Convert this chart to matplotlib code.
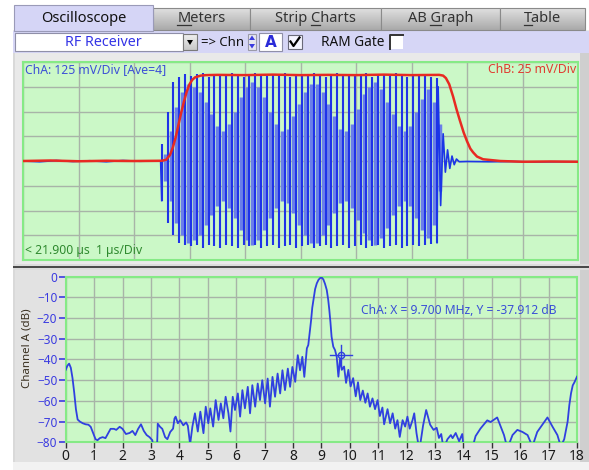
import matplotlib
matplotlib.use('Agg')
import matplotlib.pyplot as plt
import numpy as np
from matplotlib.patches import Rectangle, Polygon
from matplotlib.font_manager import FontProperties

plt.rcParams['font.family'] = ['Noto Sans', 'DejaVu Sans']

# ---------------- data ----------------
tab_labels = ["Oscilloscope", "Meters", "Strip Charts", "AB Graph", "Table"]
tab_underline = [None, 0, 6, 3, 0]

# Upper scope trace (time in us, amplitude in divisions)
base_pre_t = [0.0, 0.3, 0.6, 0.9, 1.2, 1.5, 1.8, 2.1, 2.4, 2.48]
base_pre_v = [0.0, -0.03, 0.02, -0.02, 0.01, -0.03, 0.02, -0.01, 0.0, 0.0]
burst_start_us = 2.50
cycle_us = 0.1054
burst_peaks = [0.7, 2.0, 3.2, 3.4, 3.5, 3.45, 3.5, 3.55, 3.4, 3.5, 3.5, 3.45,
               3.55, 3.5, 3.4, 3.5, 3.55, 3.5, 3.45, 3.5, 3.5, 3.55, 3.4, 3.5,
               3.5, 3.45, 3.55, 3.5, 3.4, 3.5, 3.55, 3.5, 3.45, 3.5, 3.5, 3.55,
               3.4, 3.5, 3.5, 3.45, 3.55, 3.5, 3.4, 3.5, 3.5, 3.45, 3.4, 3.35]
burst_troughs = [-1.6, -2.5, -3.0, -3.3, -3.4, -3.45, -3.4, -3.5, -3.4, -3.45,
                 -3.5, -3.4, -3.45, -3.5, -3.4, -3.45, -3.4, -3.5, -3.45, -3.4,
                 -3.5, -3.45, -3.4, -3.5, -3.45, -3.4, -3.5, -3.45, -3.4, -3.5,
                 -3.45, -3.4, -3.5, -3.45, -3.4, -3.5, -3.45, -3.4, -3.5, -3.45,
                 -3.4, -3.5, -3.45, -3.4, -3.45, -3.4, -3.35, -3.3]
light_hi = [0.3, 1.2, 2.2, 2.8, 3.1, 3.0, 2.8, 2.4, 1.9, 1.4, 1.2, 1.5, 2.0,
            2.6, 3.0, 3.2, 3.0, 2.6, 2.0, 1.5, 1.2, 1.3, 1.8, 2.3, 2.8, 3.1,
            3.1, 2.8, 2.3, 1.8, 1.3, 1.2, 1.5, 2.1, 2.7, 3.0, 3.2, 2.9, 2.4,
            1.9, 1.4, 1.2, 1.4, 2.0, 2.5, 2.9, 2.4, 1.5]
light_lo = [-0.8, -1.6, -2.5, -3.0, -3.3, -3.2, -3.0, -2.6, -2.2, -1.8, -1.6,
            -1.9, -2.3, -2.8, -3.2, -3.4, -3.2, -2.8, -2.3, -1.9, -1.6, -1.7,
            -2.1, -2.6, -3.0, -3.3, -3.3, -3.0, -2.6, -2.1, -1.7, -1.6, -1.9,
            -2.4, -2.9, -3.2, -3.4, -3.1, -2.7, -2.2, -1.8, -1.6, -1.8, -2.3,
            -2.8, -3.1, -2.6, -1.2]
tail_t = [7.46, 7.48, 7.525, 7.57, 7.61, 7.65, 7.69, 7.73, 7.77, 7.81, 7.86,
          8.0, 8.4, 8.8, 9.2, 9.6, 10.0]
tail_v = [-3.3, 3.0, -1.8, 1.1, -0.45, 0.45, -0.3, 0.2, -0.15, 0.08, -0.03,
          -0.02, -0.03, -0.02, -0.04, -0.03, -0.03]

chb_t = [0.0, 0.5, 1.0, 1.5, 2.0, 2.5, 2.58, 2.65, 2.70, 2.75, 2.80, 2.85, 2.90,
         2.95, 3.00, 3.05, 3.10, 3.20, 3.30, 3.5, 4.0, 4.5, 5.0, 5.5, 6.0, 6.5,
         7.0, 7.5, 7.57, 7.62, 7.68, 7.75, 7.81, 7.87, 7.94, 8.00, 8.06, 8.11,
         8.18, 8.29, 8.6, 9.0, 9.5, 10.0]
chb_v = [0.0, 0.02, -0.01, 0.01, 0.0, 0.01, 0.05, 0.25, 0.55, 0.95, 1.45, 1.95,
         2.4, 2.8, 3.1, 3.28, 3.38, 3.45, 3.47, 3.48, 3.47, 3.49, 3.47, 3.48,
         3.47, 3.49, 3.47, 3.48, 3.45, 3.35, 3.1, 2.6, 2.1, 1.65, 1.15, 0.8, 0.5,
         0.35, 0.18, 0.07, 0.0, -0.03, -0.02, -0.03]

# Spectrum (MHz, dB)
spec_f = [0.00, 0.06, 0.12, 0.18, 0.24, 0.30, 0.36, 0.42, 0.50, 0.60, 0.70, 0.80,
          0.88, 0.95, 1.05, 1.12, 1.20, 1.30, 1.40, 1.48, 1.58, 1.70, 1.78, 1.90,
          2.00, 2.12, 2.25, 2.35, 2.45, 2.55, 2.65, 2.75, 2.85, 2.95, 3.05, 3.12,
          3.20, 3.24, 3.32, 3.40, 3.50, 3.58, 3.68, 3.78, 3.83, 3.87, 3.95, 4.03,
          4.14, 4.24, 4.30, 4.38, 4.46, 4.55, 4.65, 4.74, 4.85, 4.93, 5.02, 5.09,
          5.19, 5.28, 5.38, 5.46, 5.55, 5.63, 5.73, 5.80, 5.88, 5.96, 6.06, 6.14,
          6.22, 6.31, 6.41, 6.49, 6.57, 6.67, 6.76, 6.84, 6.92, 7.02, 7.11, 7.19,
          7.28, 7.37, 7.46, 7.55, 7.63, 7.72, 7.82, 7.90, 7.98, 8.08, 8.17, 8.25,
          8.33, 8.40, 8.49, 8.54, 8.58, 8.64, 8.68, 8.72, 8.78, 8.84, 8.90, 8.96,
          9.02, 9.07, 9.13, 9.19, 9.24, 9.28, 9.32, 9.36, 9.42, 9.48, 9.54, 9.60,
          9.66, 9.72, 9.80, 9.87, 9.95, 10.03, 10.12, 10.21, 10.29, 10.37, 10.46,
          10.55, 10.63, 10.71, 10.80, 10.89, 10.98, 11.06, 11.15, 11.21, 11.33,
          11.42, 11.51, 11.60, 11.68, 11.76, 11.86, 11.95, 12.03, 12.11, 12.21,
          12.27, 12.35, 12.45, 12.58, 12.69, 12.83, 12.95, 13.06, 13.14, 13.22,
          13.30, 13.38, 13.44, 13.56, 13.62, 13.73, 13.85, 13.96, 14.02, 14.30,
          14.37, 14.43, 14.60, 14.84, 14.96, 15.19, 15.26, 15.43, 15.55, 15.73,
          15.90, 16.08, 16.26, 16.43, 16.60, 16.78, 16.96, 17.14, 17.31, 17.43,
          17.55, 17.67, 17.73, 17.79, 17.85, 17.91, 18.00]
spec_db = [-45, -43, -42, -44, -49, -56, -64, -69, -70, -70.8, -71.3, -71.5,
           -72.5, -75, -78.5, -79, -78, -77.5, -78, -76, -73.5, -73.5, -74, -72.5,
           -73.5, -76, -75.5, -74.5, -76.5, -73.5, -71.3, -74.5, -76.5, -77.5, -79, -90,
           -90, -71, -72.5, -73.5, -77.5, -78.5, -75, -73.4, -68.5, -67.6, -70.8, -69.3,
           -71.8, -70.4, -72, -81, -72.4, -66, -74.8, -65.2, -75.6, -62.8, -70.8, -63.6,
           -72.4, -59.6, -69.2, -61.2, -68.4, -58, -66, -74.8, -58, -64.4, -56.4, -67.6,
           -54.8, -63.6, -53.2, -66, -52.4, -62.8, -51.6, -59.6, -50, -61.2, -49.2, -62.8,
           -48.4, -58, -46.8, -56.4, -45.2, -54.8, -44.4, -53.2, -43.6, -50.8, -37.9, -45.2,
           -38.7, -48.4, -34.6, -33.0, -28, -20.9, -15, -11.3, -6, -3.2, -1.5, -0.6,
           -0.5, -1.3, -3.5, -6.4, -11, -16, -22, -29, -33.8, -35.4, -38.6, -48.3,
           -39.5, -45, -43.4, -51.3, -45, -53, -49, -57.8, -51, -59.6, -55,
           -60.9, -56.4, -62.8, -58.8, -64, -59.6, -67.3, -63.2, -71.3, -64,
           -70.8, -66, -73.4, -69.3, -77.4, -69.3, -72.4, -67.6, -73.4, -69.3,
           -66, -75.6, -84, -72, -64.4, -71.5, -74, -73, -77.9, -76,
           -83, -80.5, -78.5, -76.5, -78, -75.5, -79.5, -76, -85, -88,
           -80, -77, -73.4, -69.4, -70.2, -68, -70.5, -76.5, -83, -76.5,
           -74, -75, -76.5, -82, -75, -71.5, -68, -72.5, -76.5, -82,
           -78.5, -70, -62, -56.3, -52.5, -51, -48.3]
cursor_f, cursor_db = 9.700, -37.912

# ---------------- figure ----------------
W, H = 589, 470
fig = plt.figure(figsize=(W / 100, H / 100), dpi=100)
fig.patch.set_facecolor('white')

bg = fig.add_axes([0, 0, 1, 1])
bg.axis('off')
bg.set_zorder(-5)

def rect(x0, y0, x1, y1, fc, ec='none', lw=0.8, z=1):
    bg.add_patch(Rectangle((x0, y0), x1 - x0, y1 - y0, fc=fc, ec=ec, lw=lw, zorder=z))

def grad(x0, y0, x1, y1, c_top, c_bot, z=1):
    ct = np.array(matplotlib.colors.to_rgb(c_top))
    cb = np.array(matplotlib.colors.to_rgb(c_bot))
    g = np.linspace(0, 1, 32)[:, None]
    img = (ct[None, :] * (1 - g) + cb[None, :] * g)[:, None, :]
    bg.imshow(img, extent=(x0, x1, y1, y0), aspect='auto', zorder=z,
              interpolation='bilinear')

# window body
rect(13, 30, W, H, '#ebebeb')
tab_x = [14, 153, 250, 381, 500, 585]
for i, lab in enumerate(tab_labels):
    x0, x1 = tab_x[i], tab_x[i + 1]
    if i == 0:
        rect(x0, 5, x1, 31, '#d5d5f6', ec='#9a9ab8', z=3)
    else:
        grad(x0, 8, x1, 30, '#e0e0e0', '#aaaaaa', z=2)
        rect(x0, 8, x1, 30, 'none', ec='#8a8a8a', z=2)

# toolbar
rect(13, 31, W, 53, '#d6d6f6')
rect(15, 33, 183, 51, 'white', ec='#8f8fa8', z=3)
grad(183, 34, 197, 50, '#f0f0f0', '#c8c8c8', z=3)
rect(183, 34, 197, 50, 'none', ec='#7a7a7a', z=4)
bg.add_patch(Polygon([(187, 40), (193, 40), (190, 45)], closed=True, fc='black', zorder=5))
bg.text(103, 42.5, "RF Receiver", color='#3434e6', fontsize=10.3, ha='center', va='center', zorder=5)
bg.text(201, 42.5, "=> Chn", color='#111111', fontsize=9.5, ha='left', va='center', zorder=5)
rect(248, 34, 256, 50, '#e6e6f0', ec='#9a9aa8', z=3)
bg.add_patch(Polygon([(249, 40), (255, 40), (252, 35.5)], closed=True, fc='#3a3ae0', zorder=5))
bg.add_patch(Polygon([(249, 44), (255, 44), (252, 48.5)], closed=True, fc='#3a3ae0', zorder=5))
rect(259, 33, 282, 51, 'white', ec='#8f8fa8', z=3)
bg.text(270.5, 42.5, "A", color='#2a2ad8', fontsize=11, fontweight='bold',
        family='DejaVu Sans', ha='center', va='center', zorder=5)
rect(288, 35, 302, 49, '#f4f4ff', ec='#6a6a7a', z=3)
bg.plot([290.5, 293.5, 299.5], [41.5, 46, 37.5], color='black', lw=1.6, zorder=6)
bg.text(321, 42.5, "RAM Gate", color='#111111', fontsize=9.8, ha='left', va='center', zorder=5)
rect(390, 35, 403, 49, 'white', z=3)
bg.plot([390, 390, 403], [49, 35, 35], color='#333333', lw=1.4, zorder=6)

# panel frames
rect(13, 53, W, 264, '#e9e9e9')
rect(580, 53, W, H, '#cfcfcf', z=2)
rect(13, 264, W, 270, '#dcdcdc', z=2)
rect(13, 265.5, W, 268, '#4a4a4a', z=3)
rect(13, 270, 580, 462, '#e2e2e2', z=2)
rect(13, 462, W, H, '#f2f2f2', z=2)
rect(13, 53, 15, 462, '#d9d9d9', z=2)

bg.set_xlim(0, W)
bg.set_ylim(H, 0)

# tab labels (with underlined access keys)
fig.canvas.draw()
renderer = fig.canvas.get_renderer()
fp = FontProperties(family=['Noto Sans', 'DejaVu Sans'], size=10.5)
for i, lab in enumerate(tab_labels):
    cx = (tab_x[i] + tab_x[i + 1]) / 2
    cy = 18.5
    col = '#111111' if i == 0 else '#333333'
    bg.text(cx, cy, lab, fontproperties=fp, color=col, ha='center', va='center', zorder=6)
    u = tab_underline[i]
    if u is not None:
        wf = renderer.get_text_width_height_descent(lab, fp, ismath=False)[0]
        wp = renderer.get_text_width_height_descent(lab[:u], fp, ismath=False)[0] if u > 0 else 0
        wl = renderer.get_text_width_height_descent(lab[u], fp, ismath=False)[0]
        left = cx - wf / 2
        bg.plot([left + wp, left + wp + wl], [25, 25], color=col, lw=0.9, zorder=6)

green = '#cbf8c7'
grid_c = '#a8b4a8'
spine_c = '#86ea86'

# ---------------- upper scope plot ----------------
ax1 = fig.add_axes([23 / W, 1 - 260 / H, (578 - 23) / W, (260 - 62) / H])
ax1.set_facecolor(green)
ax1.set_xlim(0, 10)
ax1.set_ylim(-4, 4)
ax1.set_xticks(range(11))
ax1.set_yticks(range(-4, 5))
ax1.grid(True, color=grid_c, lw=1.0)
ax1.tick_params(length=0, labelbottom=False, labelleft=False)
for s in ax1.spines.values():
    s.set_color(spine_c)
    s.set_linewidth(1.5)

n_cyc = len(burst_peaks)
cyc_t = burst_start_us + np.arange(n_cyc) * cycle_us
mid_t = cyc_t + cycle_us / 2
ax1.plot(base_pre_t + [cyc_t[0]], base_pre_v + [burst_troughs[0]], color='#1c36e6', lw=1.2, zorder=3)
ax1.vlines(mid_t, light_lo, light_hi, color='#6b7fea', lw=2.5, zorder=2.5)
ax1.vlines(cyc_t, burst_troughs, burst_peaks, color='#1f33e8', lw=1.5, zorder=3)
ax1.plot(tail_t, tail_v, color='#1c36e6', lw=1.2, zorder=3)
ax1.plot(chb_t, chb_v, color='#e82a22', lw=1.8, zorder=4)

ax1.text(0.004, 0.962, "ChA: 125 mV/Div [Ave=4]", transform=ax1.transAxes,
         color='#3c4fd6', fontsize=8.8, ha='left', va='center', zorder=6)
ax1.text(0.997, 0.962, "ChB: 25 mV/Div", transform=ax1.transAxes,
         color='#e03a30', fontsize=8.8, ha='right', va='center', zorder=6)
ax1.text(0.004, 0.05, "< 21.900 \u00b5s  1 \u00b5s/Div", transform=ax1.transAxes,
         color='#2f8a2f', fontsize=8.8, ha='left', va='center', zorder=6)

# ---------------- lower spectrum plot ----------------
ax2 = fig.add_axes([65.7 / W, 1 - 442.3 / H, (577 - 65.7) / W, (442.3 - 276.7) / H])
ax2.set_facecolor(green)
ax2.set_xlim(0, 18)
ax2.set_ylim(-80, 0)
ax2.set_xticks(range(19))
ax2.set_yticks(range(-80, 1, 10))
ax2.grid(True, color=grid_c, lw=1.0)
ax2.tick_params(axis='x', length=4, width=1, color='#333333', labelsize=10,
                labelcolor='#1a1a1a', pad=1)
ax2.tick_params(axis='y', length=5, width=1.2, color='#3a3ae0', labelsize=8.5,
                labelcolor='#3a3ae0', pad=1)
for s in ax2.spines.values():
    s.set_color(spine_c)
    s.set_linewidth(1.5)
ax2.set_ylabel("Channel A (dB)", fontsize=8.3, color='#3a3020')
ax2.yaxis.set_label_coords(-0.064, 0.57)
ax2.plot(spec_f, spec_db, color='#3040e0', lw=1.3, zorder=3)

# cursor crosshair
ax2.plot([cursor_f - 0.39, cursor_f + 0.37], [cursor_db, cursor_db], color='#3040e0', lw=1.0, zorder=4)
ax2.plot([cursor_f, cursor_f], [cursor_db + 4.8, cursor_db - 5.2], color='#3040e0', lw=1.0, zorder=4)
ax2.plot([cursor_f], [cursor_db], marker='o', ms=4.5, mfc='none', mec='#3040e0', mew=1.0, zorder=5)
ax2.text(0.578, 0.793, "ChA: X = %.3f MHz, Y = %.3f dB" % (cursor_f, cursor_db),
         transform=ax2.transAxes, color='#3a4fd6', fontsize=8.7, ha='left', va='center', zorder=6)

fig.savefig('out.png', dpi=100, facecolor=fig.get_facecolor())
